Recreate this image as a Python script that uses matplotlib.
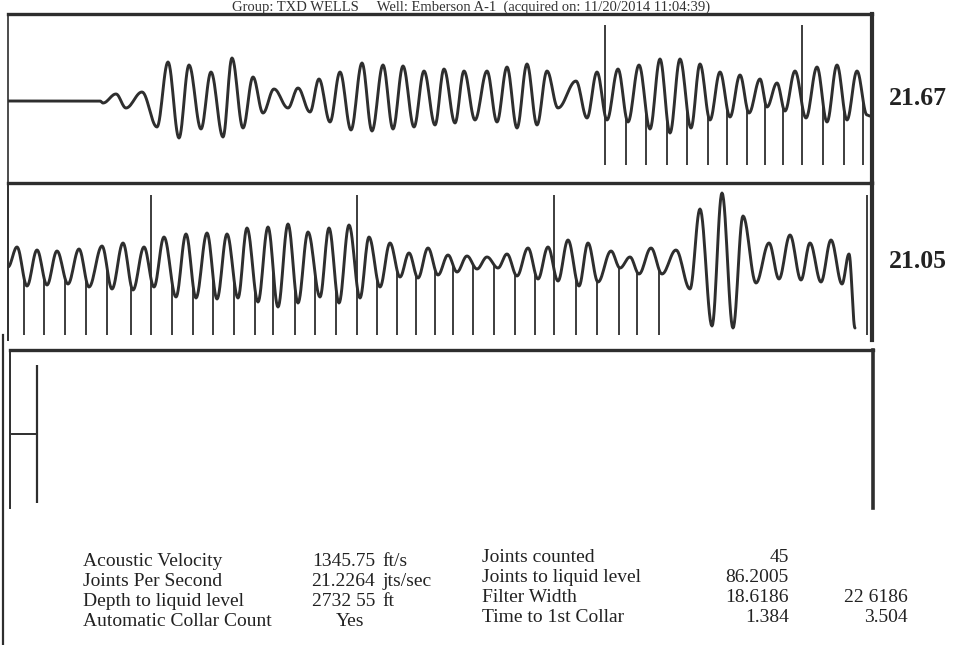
import numpy as np
import matplotlib
matplotlib.use("Agg")
import matplotlib.pyplot as plt
from matplotlib.lines import Line2D

# ---------------- data (time in samples, amplitude in counts) ----------------
# panel 1 waveform extrema
p1_x = [0, 92, 95, 108, 118, 134, 149, 160, 171, 181, 193, 203, 215, 224, 235, 245, 255, 266,
        280, 290, 302, 311, 322, 332, 343, 354, 364, 375, 385, 395, 406, 416, 427, 436, 447,
        456, 467, 479, 489, 499, 509, 519, 529, 539, 550, 568, 579, 589, 599, 610, 620, 631,
        642, 652, 662, 672, 683, 692, 702, 712, 722, 732, 741, 752, 759, 769, 777, 787, 798,
        809, 819, 829, 839, 849, 859, 862]
p1_y = [0, 0, -2, 7, -7, 9, -26, 39, -37, 36, -28, 29, -36, 43, -27, 24, -12, 12,
        -7, 13, -11, 22, -21, 29, -29, 38, -30, 36, -28, 35, -26, 30, -24, 32, -22,
        30, -19, 30, -21, 34, -27, 37, -24, 30, -7, 20, -17, 29, -19, 32, -21, 36,
        -28, 42, -32, 42, -27, 37, -19, 29, -16, 26, -12, 22, -6, 18, -10, 30, -17,
        34, -21, 36, -19, 30, -14, -15]
p1_collars = [597, 618, 638, 659, 679, 700, 719, 739, 757, 775, 794, 815, 836, 855]
p1_tall = [597, 794]

# panel 2 waveform extrema
p2_x = [0, 9, 19, 29, 39, 49, 60, 71, 81, 94, 104, 115, 125, 136, 146, 156, 168, 178, 188,
        199, 209, 219, 230, 239, 250, 260, 270, 280, 290, 300, 312, 321, 331, 341, 352, 361,
        372, 382, 392, 401, 410, 420, 430, 440, 449, 459, 469, 479, 490, 499, 509, 520, 530,
        540, 550, 560, 571, 580, 590, 603, 612, 622, 631, 643, 654, 668, 682, 692, 704, 714,
        725, 735, 748, 761, 771, 782, 793, 802, 813, 823, 834, 841, 847]
p2_y = [0, 20, -19, 17, -18, 16, -17, 18, -20, 21, -22, 24, -23, 20, -20, 30, -30, 33, -31,
        34, -32, 33, -31, 39, -35, 40, -40, 43, -36, 35, -30, 39, -36, 42, -31, 30,
        -20, 24, -10, 14, -11, 19, -8, 12, -5, 11, -2, 10, -1, 13, -9, 19, -12,
        20, -14, 27, -19, 24, -15, 16, -1, 10, -7, 19, -7, 17, -22, 58, -59, 74,
        -61, 51, -16, 24, -12, 32, -13, 24, -15, 27, -17, 13, -61]
p2_collars = [16, 36, 57, 78, 99, 123, 143, 164, 185, 205, 226, 247, 265, 287, 307, 328, 349,
              369, 389, 408, 427, 445, 465, 486, 507, 527, 546, 568, 589, 611, 629, 651, 859]
p2_tall = [143, 349, 546, 859]

# panel 3 (liquid level kick)
p3_kick_x = [4, 29]
p3_kick_level = 0.468
p3_kick_span = [0.032, 0.905]

rates = ["21.67", "21.05"]

labels_left = ["Acoustic Velocity", "Joints Per Second", "Depth to liquid level", "Automatic Collar Count"]
values_left = ["1345.75", "21.2264", "2732 55", "Yes"]
units_left = ["ft/s", "jts/sec", "ft", ""]
labels_right = ["Joints counted", "Joints to liquid level", "Filter Width", "Time to 1st Collar"]
values_right = ["45", "86.2005", "18.6186", "1.384"]
values_right2 = ["", "", "22 6186", "3.504"]

title = "Group: TXD WELLS     Well: Emberson A-1  (acquired on: 11/20/2014 11:04:39)"

# ---------------- drawing ----------------
W, H = 962, 645
fig = plt.figure(figsize=(W / 100, H / 100), dpi=100)
fig.patch.set_facecolor("white")
INK = "#2e2e2e"
SERIF = ["Liberation Serif", "DejaVu Serif"]


def add_ax(l, t, r, b):
    return fig.add_axes([l / W, 1 - b / H, (r - l) / W, (b - t) / H])


def smooth(xe, ye, n=14):
    xs, ys = [], []
    for i in range(len(xe) - 1):
        t = np.linspace(0, 1, n, endpoint=False)
        s = (1 - np.cos(np.pi * t)) / 2
        xs.append(xe[i] + (xe[i + 1] - xe[i]) * t)
        ys.append(ye[i] + (ye[i + 1] - ye[i]) * s)
    xs.append([xe[-1]])
    ys.append([ye[-1]])
    return np.concatenate(xs), np.concatenate(ys)


def style(ax, top, left, right, bottom):
    ax.set_xticks([])
    ax.set_yticks([])
    for name, lw in (("top", top), ("left", left), ("right", right), ("bottom", bottom)):
        sp = ax.spines[name]
        if lw:
            sp.set_linewidth(lw)
            sp.set_color(INK)
        else:
            sp.set_visible(False)
    ax.patch.set_alpha(0)


def draw_panel(ax, xe, ye, collars, tall, bottom, top_tall):
    xs, ys = smooth(xe, ye)
    ax.plot(xs, ys, color=INK, lw=2.1, solid_capstyle="round")
    for c in collars:
        if c in tall:
            ax.vlines(c, bottom, top_tall, color=INK, lw=1.3)
        else:
            ax.vlines(c, bottom, np.interp(c, xs, ys), color=INK, lw=1.3)


ax1 = add_ax(8, 14, 872, 183)
ax1.set_xlim(0, 864)
ax1.set_ylim(-82, 87)
style(ax1, 2.4, 1.2, 3.0, 2.4)
draw_panel(ax1, p1_x, p1_y, p1_collars, p1_tall, -64, 76)

ax2 = add_ax(8, 183, 872, 340)
ax2.set_xlim(0, 864)
ax2.set_ylim(-73, 84)
style(ax2, 0, 1.4, 3.0, 0)
draw_panel(ax2, p2_x, p2_y, p2_collars, p2_tall, -68, 72)

ax3 = add_ax(10, 350, 873, 508)
ax3.set_xlim(2, 865)
ax3.set_ylim(0, 1)
style(ax3, 2.4, 1.4, 2.6, 0)
ax3.plot(p3_kick_x, [p3_kick_level] * 2, color=INK, lw=1.4)
ax3.vlines(p3_kick_x[1], p3_kick_span[0], p3_kick_span[1], color=INK, lw=1.6)

# outer left frame line
fig.add_artist(Line2D([3 / W, 3 / W], [1 - 335 / H, 0], color=INK, lw=1.6))

# rates
for ax, r in zip((ax1, ax2), rates):
    ax.text(1.019, 0.5, r, transform=ax.transAxes, ha="left", va="center",
            fontsize=18.5, fontweight="bold", family=SERIF, color="#222222")

# title
fig.text(471 / W, 1 - 10.5 / H, title, ha="center", va="baseline", fontsize=10.5, family=SERIF,
         color="#333333")


def ftext(x, y, s, ha="left"):
    fig.text(x / W, 1 - y / H, s, ha=ha, va="center", fontsize=14, family=SERIF, color="#222222")


rows_left = [562, 582, 602, 621]
rows_right = [557, 578, 598, 618]
for i in range(4):
    ftext(83, rows_left[i], labels_left[i])
    ftext(375 if values_left[i] != "Yes" else 364, rows_left[i], values_left[i], ha="right")
    if units_left[i]:
        ftext(382, rows_left[i], units_left[i])
    ftext(482, rows_right[i], labels_right[i])
    ftext(789, rows_right[i], values_right[i], ha="right")
    if values_right2[i]:
        ftext(908, rows_right[i], values_right2[i], ha="right")

fig.savefig("out.png", dpi=100, facecolor="white")
